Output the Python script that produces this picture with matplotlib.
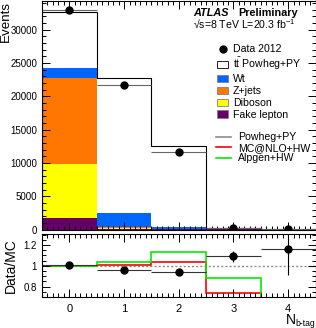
import matplotlib
matplotlib.use('Agg')
import matplotlib.pyplot as plt
import numpy as np
from matplotlib.patches import Patch
from matplotlib.lines import Line2D
from matplotlib.ticker import MultipleLocator, FixedLocator

plt.rcParams['font.family'] = ['Liberation Sans', 'DejaVu Sans']
plt.rcParams['mathtext.default'] = 'regular'

# b-tag multiplicity bins
nbtag = [0, 1, 2, 3, 4]
data = [32900, 21700, 11700, 300, 40]
ttbar = [8420, 20220, 12050, 225, 30]
wt = [1450, 2150, 350, 40, 4]
zjets = [12900, 150, 50, 5, 0.5]
diboson = [8200, 120, 30, 3, 0]
fake = [1700, 80, 20, 2, 0]
ratio_err = [0.008, 0.008, 0.01, 0.05, 0.25]
# alternative generators / Powheg+PY, first four bins
mcnlo_ratio = [1.0, 1.012, 1.035, 0.74]
alpgen_ratio = [0.995, 1.032, 1.128, 0.878]

x = np.array(nbtag)
edges = np.arange(-0.5, 5.0, 1.0)
stack = [(fake, '#660066', 'Fake lepton'), (diboson, '#ffff00', 'Diboson'),
         (zjets, '#ff7700', 'Z+jets'), (wt, '#0066ff', 'Wt'),
         (ttbar, 'white', r't$\bar{t}$ Powheg+PY')]
total = np.sum([np.array(s[0]) for s in stack], axis=0)
ratio = np.array(data) / total

W, H = 316, 328
fig = plt.figure(figsize=(W / 100, H / 100), dpi=100)
ax = fig.add_axes([42 / W, 1 - 229.5 / H, 273.5 / W, 228.5 / H])
rx = fig.add_axes([42 / W, 1 - 297 / H, 273.5 / W, 63.5 / H])

bottom = np.zeros(5)
for vals, col, lab in stack:
    ax.bar(x, vals, width=1.0, bottom=bottom, color=col, linewidth=0)
    bottom += np.array(vals)
ax.stairs(total, edges, color='k', lw=0.8)
ax.errorbar(x, data, yerr=np.sqrt(data), fmt='none', ecolor='k', elinewidth=0.8)
ax.hlines(data, x - 0.5, x + 0.5, color='0.4', lw=0.8)
ax.plot(x, data, 'o', color='k', ms=5)

ax.set_xlim(-0.5, 4.5)
ax.set_ylim(0, 34300)
ax.yaxis.set_major_locator(FixedLocator([0, 5000, 10000, 15000, 20000, 25000, 30000]))
ax.yaxis.set_minor_locator(MultipleLocator(1000))
ax.xaxis.set_major_locator(MultipleLocator(1))
ax.xaxis.set_minor_locator(MultipleLocator(0.1))
ax.set_xticklabels([])
ax.set_ylabel('Events', loc='top', fontsize=9.6)
ax.yaxis.set_label_coords(-0.11, 1.0)

# ratio panel
rx.stairs([1] * 5, edges, color='0.55', lw=1.0, linestyle=(0, (1.5, 1.5)))
rx.stairs(mcnlo_ratio, edges[:5], color='#ff0000', lw=1.2)
rx.stairs(alpgen_ratio, edges[:5], color='#00ee00', lw=1.2)
rx.hlines(ratio, x - 0.5, x + 0.5, color='0.2', lw=0.8)
rx.errorbar(x, ratio, yerr=ratio_err, fmt='o', color='k', ms=5, elinewidth=0.8)
rx.set_xlim(-0.5, 4.5)
rx.set_ylim(0.7, 1.31)
rx.yaxis.set_major_locator(FixedLocator([0.8, 1.0, 1.2]))
rx.set_yticklabels(['0.8', '1', '1.2'])
rx.yaxis.set_minor_locator(MultipleLocator(0.05))
rx.xaxis.set_major_locator(MultipleLocator(1))
rx.xaxis.set_minor_locator(MultipleLocator(0.1))
rx.set_ylabel('Data/MC', fontsize=10)
rx.yaxis.set_label_coords(-0.09, 0.5)

for a in (ax, rx):
    a.tick_params(which='both', direction='in', top=True, right=True, width=0.7)
    a.tick_params(which='major', length=6, labelsize=7)
    a.tick_params(which='minor', length=3)
rx.tick_params(axis='x', which='major', labelsize=8, pad=5)

fig.text(286 / W, 1 - 324 / H, 'N', fontsize=10, va='baseline')
fig.text(295.5 / W, 1 - 326 / H, 'b-tag', fontsize=6.2, va='baseline', ha='left')

fig.text(193 / W, 1 - 16.5 / H, 'ATLAS', fontsize=7.8, fontweight='bold', fontstyle='italic', va='baseline')
fig.text(238 / W, 1 - 16.5 / H, 'Preliminary', fontsize=7.8, fontweight='bold', va='baseline')
fig.text(193 / W, 1 - 28.5 / H, '\u221as=8 TeV L=20.3 fb$^{-1}$', fontsize=7.6, va='baseline')

handles = [Line2D([], [], marker='o', color='k', ls='none', ms=5)]
labels = ['Data 2012']
for vals, col, lab in stack[::-1]:
    handles.append(Patch(facecolor=col, edgecolor='k' if col == 'white' else '0.5', lw=0.6))
    labels.append(lab)
leg1 = fig.legend(handles, labels, loc='upper left', bbox_to_anchor=(212 / W, 1 - 39 / H),
                  frameon=False, fontsize=7.6, borderpad=0, handlelength=1.05, handleheight=0.7,
                  handletextpad=0.45, labelspacing=0.18)

lines = [Line2D([], [], color='0.55', lw=1.2), Line2D([], [], color='#ff0000', lw=1.2),
         Line2D([], [], color='#00ee00', lw=1.2)]
leg2 = fig.legend(lines, ['Powheg+PY', 'MC@NLO+HW', 'Alpgen+HW'], loc='upper left',
                  bbox_to_anchor=(211 / W, 1 - 127 / H), frameon=False, fontsize=7.6,
                  borderpad=0, handlelength=1.35, handletextpad=0.7, labelspacing=0.05)

fig.savefig('out.png', dpi=100)
